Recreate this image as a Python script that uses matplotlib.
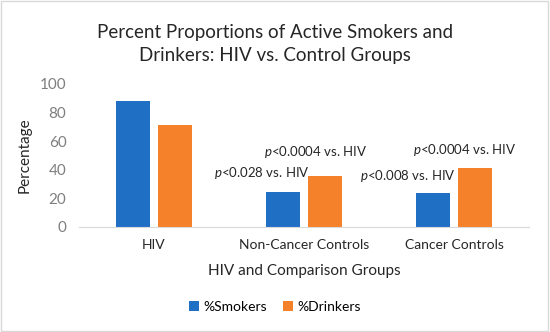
import matplotlib
matplotlib.use("Agg")
import matplotlib.pyplot as plt
import numpy as np
from matplotlib.patches import Rectangle

plt.rcParams['font.family'] = ['Lato', 'DejaVu Sans']
plt.rcParams['mathtext.fontset'] = 'custom'
plt.rcParams['mathtext.it'] = 'Lato:italic'
plt.rcParams['mathtext.rm'] = 'Lato'

categories = ["HIV", "Non-Cancer Controls", "Cancer Controls"]
smokers = [88.2, 24.5, 23.8]
drinkers = [71.3, 35.7, 41.3]
series_names = ["%Smokers", "%Drinkers"]
annotations = ["$p$<0.028 vs. HIV", "$p$<0.0004 vs. HIV",
               "$p$<0.008 vs. HIV", "$p$<0.0004 vs. HIV"]

blue = "#1F6FC5"
orange = "#F5812A"
gray = "#7F7F7F"

fig = plt.figure(figsize=(5.5, 3.32), dpi=100)
fig.patches.append(Rectangle((0.002, 0.003), 0.995, 0.994, transform=fig.transFigure,
                             fill=False, edgecolor="#D9D9D9", linewidth=1.0))
ax = fig.add_axes([0.1436, 0.3163, 0.8182, 0.4307])

x = np.arange(len(categories))
w = 0.227
off = 0.143
ax.bar(x - off, smokers, w, color=blue, label=series_names[0])
ax.bar(x + off, drinkers, w, color=orange, label=series_names[1])

ax.set_xlim(-0.5, 2.5)
ax.set_ylim(0, 100)
ax.set_yticks(range(0, 101, 20))
ax.set_xticks(x)
ax.set_xticklabels(categories, fontsize=10, color="#262626")
ax.tick_params(axis='y', length=0, labelsize=11, labelcolor=gray, pad=9)
ax.tick_params(axis='x', length=0, pad=9)
for s in ["top", "right", "left"]:
    ax.spines[s].set_visible(False)
ax.spines["bottom"].set_color("#D9D9D9")

ax.set_ylabel("Percentage", fontsize=11, color="#262626", labelpad=6)
ax.set_xlabel("HIV and Comparison Groups", fontsize=11, color="#262626", labelpad=9)

ann_pos = [(0.72, 37.8), (1.08, 52.4), (1.69, 35.7), (2.07, 53.8)]
for t, (px, py) in zip(annotations, ann_pos):
    ax.text(px, py, t, ha="center", va="center", fontsize=9.5, color="#262626")

fig.text(0.5, 0.868, "Percent Proportions of Active Smokers and\nDrinkers: HIV vs. Control Groups",
         ha="center", va="center", fontsize=13.5, color="#262626", linespacing=1.4)

fig.legend(loc="center", bbox_to_anchor=(0.5, 0.075), ncol=2, frameon=False,
           fontsize=10, handlelength=0.7, handleheight=0.7, handletextpad=0.3,
           columnspacing=1.2)

fig.savefig("out.png", dpi=100)
